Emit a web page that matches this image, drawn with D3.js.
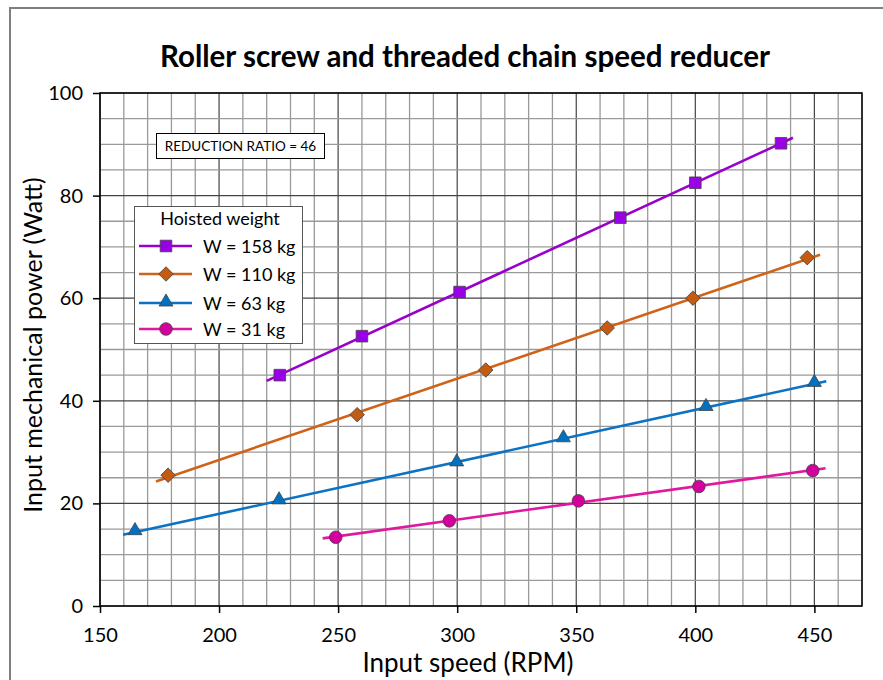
<!DOCTYPE html>
<html><head><meta charset="utf-8">
<script src="https://cdn.jsdelivr.net/npm/d3@7"></script>
<style>body{margin:0;background:#fff}svg{display:block}text{font-family:Lato,"Open Sans",sans-serif}</style>
</head><body><svg id="c" width="883" height="680"></svg>
<script>
const seriesNames = ["W = 158 kg","W = 110 kg","W = 63 kg","W = 31 kg"];
const speed158 = [225.5, 260, 301, 368.5, 400, 436];
const power158 = [45, 52.6, 61.2, 75.7, 82.5, 90.2];
const speed110 = [178.6, 258, 312, 363, 399, 447];
const power110 = [25.5, 37.3, 46, 54.2, 60, 67.9];
const speed63 = [164.7, 225.2, 299.8, 344.6, 404.5, 450];
const power63 = [14.5, 20.5, 27.9, 32.6, 38.7, 43.4];
const speed31 = [249, 296.7, 350.9, 401.5, 449.3];
const power31 = [13.4, 16.6, 20.5, 23.3, 26.4];
const trendStart = [220, 173.5, 159.7, 243.5];
const trendEnd = [441, 452.4, 455, 454.7];
const xTicks = [150,200,250,300,350,400,450];
const yTicks = [0,20,40,60,80,100];
const lineColors = ["#9900CC","#D0621A","#0B72C4","#E0189E"];
const markerFill = ["#9900E6","#C55A11","#0070C0","#D4009E"];
const markerShapes = ["square","diamond","triangle","circle"];

const series = [
  {x:speed158,y:power158},{x:speed110,y:power110},{x:speed63,y:power63},{x:speed31,y:power31}
].map((s,i)=>({name:seriesNames[i],pts:s.x.map((v,j)=>({x:v,y:s.y[j]})),x0:trendStart[i],x1:trendEnd[i]}));

const svg = d3.select("#c");
const L=100,R=862,T=93,B=606;
const x = d3.scaleLinear().domain([150,470]).range([L,R]);
const y = d3.scaleLinear().domain([0,100]).range([B,T]);

svg.append("rect").attr("x",10).attr("y",8).attr("width",900).attr("height",700)
  .attr("fill","#fff").attr("stroke","#7f7f7f").attr("stroke-width",2);

svg.append("text").attr("x",465).attr("y",67).attr("text-anchor","middle")
  .attr("font-size",29.5).attr("font-weight","bold").attr("fill","#000")
  .text("Roller screw and threaded chain speed reducer");

// grid
const g = svg.append("g");
d3.range(150,471,10).forEach(v=>{
  const major = v%50===0;
  g.append("line").attr("x1",x(v)).attr("x2",x(v)).attr("y1",T).attr("y2",B)
   .attr("stroke",major?"#444":"#9a9a9a").attr("stroke-width",major?1.2:1.3);
});
d3.range(0,101,5).forEach(v=>{
  const major = v%20===0;
  g.append("line").attr("x1",L).attr("x2",R).attr("y1",y(v)).attr("y2",y(v))
   .attr("stroke",major?"#444":"#9a9a9a").attr("stroke-width",major?1.2:1.3);
});
svg.append("rect").attr("x",L).attr("y",T).attr("width",R-L).attr("height",B-T)
  .attr("fill","none").attr("stroke","#000").attr("stroke-width",1.5);

// axes
const xa = svg.append("g").attr("transform",`translate(0,${B})`)
  .call(d3.axisBottom(x).tickValues(xTicks).tickSize(7).tickPadding(15).tickSizeOuter(0));
const ya = svg.append("g").attr("transform",`translate(${L},0)`)
  .call(d3.axisLeft(y).tickValues(yTicks).tickSize(7).tickPadding(10).tickSizeOuter(0));
[xa,ya].forEach(a=>{
  a.select(".domain").remove();
  a.selectAll("line").attr("stroke","#000").attr("stroke-width",1.5);
  a.selectAll("text").attr("font-size",20).attr("fill","#000").style("font-family","Lato");
});

svg.append("text").attr("x",468).attr("y",672).attr("text-anchor","middle")
  .attr("font-size",26).attr("fill","#000").text("Input speed (RPM)");
svg.append("text").attr("transform","translate(42,345) rotate(-90)").attr("text-anchor","middle")
  .attr("font-size",25).attr("fill","#000").text("Input mechanical power (Watt)");

// trendlines
function fit(pts){
  const mx=d3.mean(pts,d=>d.x), my=d3.mean(pts,d=>d.y);
  const b=d3.sum(pts,d=>(d.x-mx)*(d.y-my))/d3.sum(pts,d=>(d.x-mx)**2);
  return v=>my+b*(v-mx);
}
const line = d3.line().x(d=>x(d[0])).y(d=>y(d[1]));
series.forEach((s,i)=>{
  const f=fit(s.pts);
  svg.append("path").attr("d",line([[s.x0,f(s.x0)],[s.x1,f(s.x1)]]))
    .attr("fill","none").attr("stroke",lineColors[i]).attr("stroke-width",2.6);
});

const symSize = {square:135,diamond:105,triangle:85,circle:125};
const symType = {square:d3.symbolSquare,diamond:d3.symbolSquare,triangle:d3.symbolTriangle,circle:d3.symbolCircle};
function marker(sel,i,cx,cy){
  const sh=markerShapes[i];
  const p = sel.append("path").attr("d",d3.symbol().type(symType[sh]).size(symSize[sh])())
    .attr("fill",markerFill[i]).attr("stroke","#444").attr("stroke-width",0.8);
  let tr=`translate(${cx},${cy})`;
  if(sh==="diamond") tr+=" rotate(45)";
  if(sh==="triangle") tr=`translate(${cx},${cy-1})`;
  p.attr("transform",tr);
}
series.forEach((s,i)=>{
  s.pts.forEach(d=>marker(svg,i,x(d.x),y(d.y)));
});

// annotation box
svg.append("rect").attr("x",156.5).attr("y",133.5).attr("width",168).attr("height",25)
  .attr("fill","#fff").attr("stroke","#000").attr("stroke-width",1);
svg.append("text").attr("x",240.5).attr("y",151).attr("text-anchor","middle")
  .attr("font-size",13.5).attr("fill","#000").text("REDUCTION RATIO = 46");

// legend
svg.append("rect").attr("x",134.5).attr("y",206.5).attr("width",168).attr("height",137)
  .attr("fill","#fff").attr("stroke","#555").attr("stroke-width",1);
svg.append("text").attr("x",220).attr("y",225).attr("text-anchor","middle")
  .attr("font-size",18).attr("fill","#000").text("Hoisted weight");
const rowsY=[246,274,303,329];
series.forEach((s,i)=>{
  svg.append("line").attr("x1",139).attr("x2",192).attr("y1",rowsY[i]).attr("y2",rowsY[i])
    .attr("stroke",lineColors[i]).attr("stroke-width",2.6);
  marker(svg,i,166,rowsY[i]);
  svg.append("text").attr("x",203).attr("y",rowsY[i]+6.5).attr("font-size",18).attr("fill","#000").text(s.name);
});
</script></body></html>
